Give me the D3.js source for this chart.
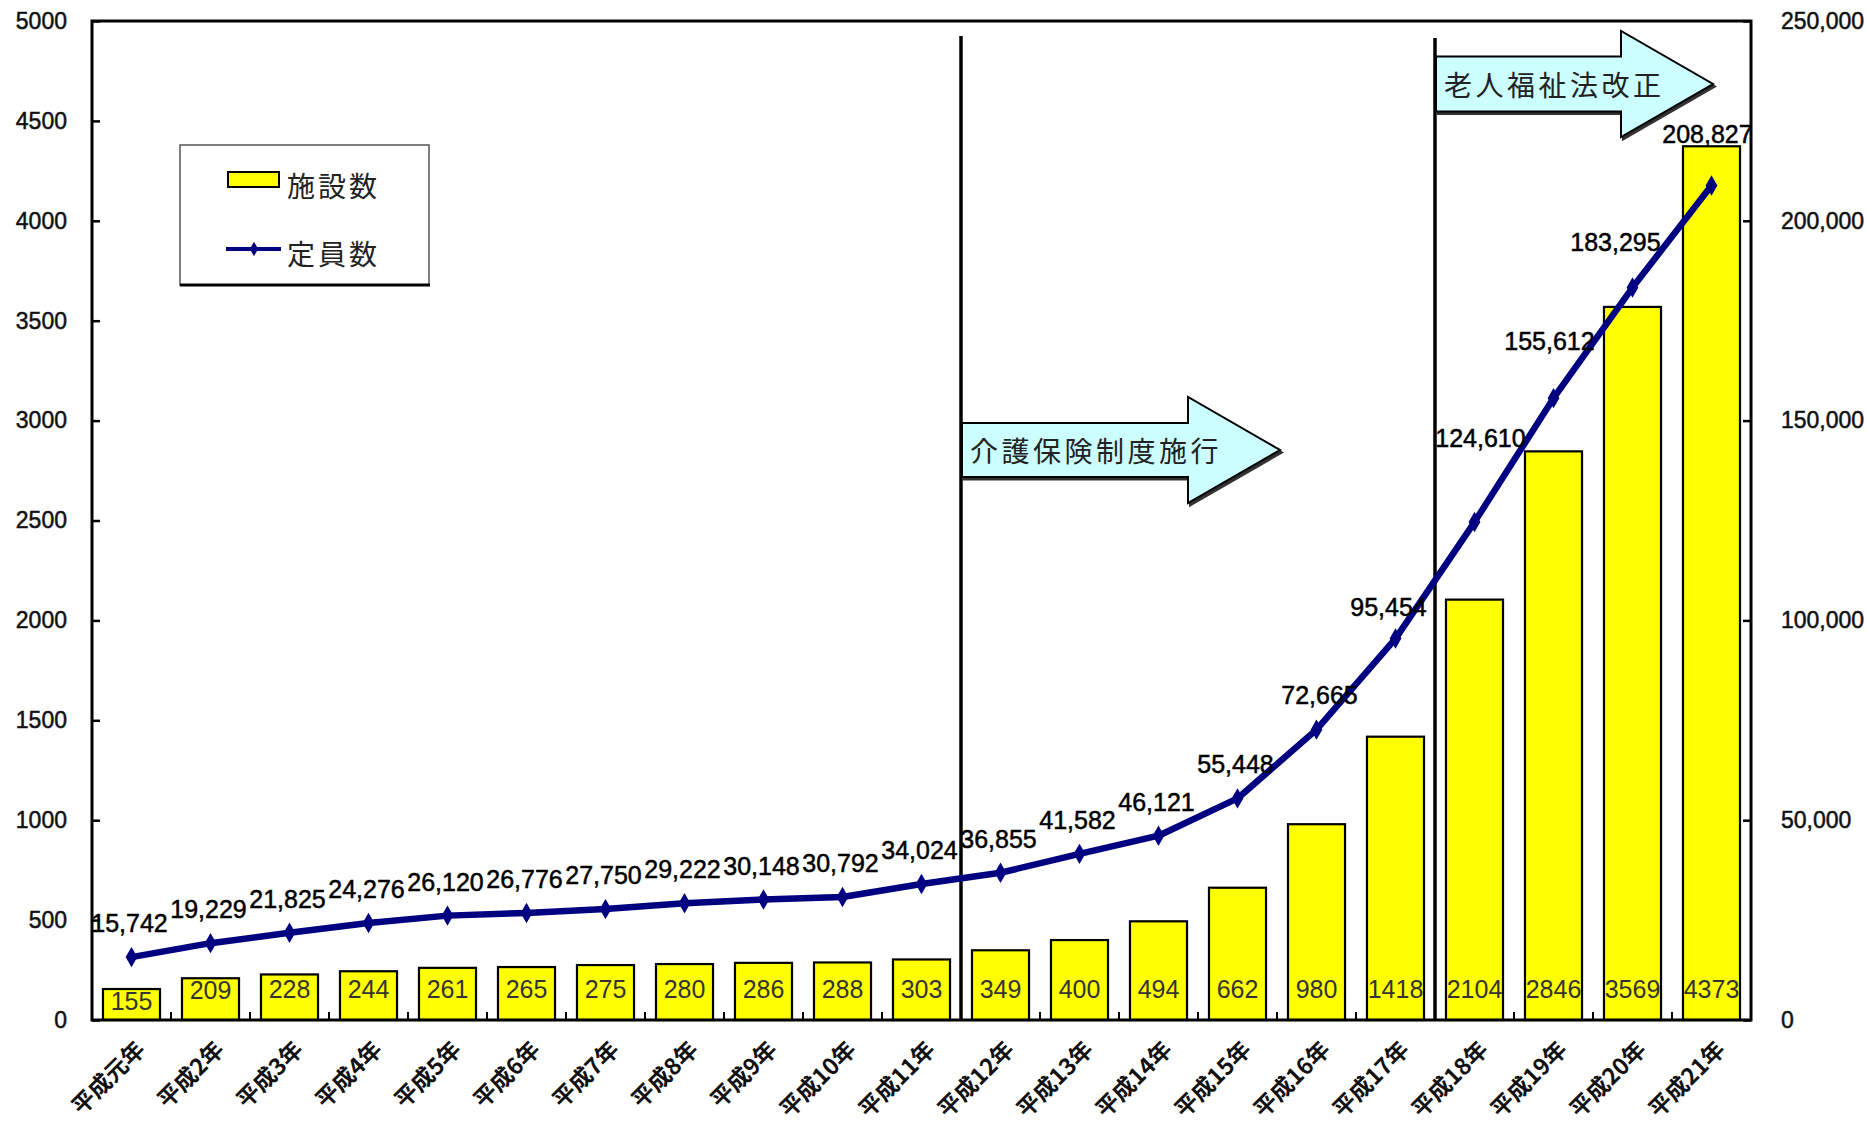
<!DOCTYPE html>
<html lang="ja">
<head>
<meta charset="utf-8">
<title>有料老人ホーム 施設数・定員数の推移</title>
<script src="https://cdn.jsdelivr.net/npm/d3@7/dist/d3.min.js"></script>
<style>
  html, body { margin: 0; padding: 0; background: #ffffff; }
  svg { display: block; }
  .num { font-family: "Liberation Sans", Arial, sans-serif; }
  .jp  { font-family: "Noto Sans CJK JP", "Noto Sans", sans-serif; }
</style>
</head>
<body>
<svg id="chart" width="1868" height="1131"></svg>
<script>
// Fiscal years (平成元年 .. 平成21年)
const years = ["平成元年","平成2年","平成3年","平成4年","平成5年","平成6年","平成7年",
  "平成8年","平成9年","平成10年","平成11年","平成12年","平成13年","平成14年","平成15年",
  "平成16年","平成17年","平成18年","平成19年","平成20年","平成21年"];

// Number of facilities (bars, left axis)
const facilities = [155,209,228,244,261,265,275,280,286,288,303,349,400,494,662,980,1418,2104,2846,3569,4373];

// Capacity (line, right axis)
const capacity = [15742,19229,21825,24276,26120,26776,27750,29222,30148,30792,34024,36855,
  41582,46121,55448,72665,95454,124610,155612,183295,208827];

// Axis ticks
const leftTicks = [0,500,1000,1500,2000,2500,3000,3500,4000,4500,5000];
const rightTicks = [0,50000,100000,150000,200000,250000];

// Legend and annotation texts
const seriesNames = ["施設数","定員数"];
const events = [
  { from: "平成12年", text: "介護保険制度施行" },
  { from: "平成18年", text: "老人福祉法改正" }
];

// ---- layout ----
const plot = { left: 92, right: 1751, top: 21, bottom: 1020 };
const svg = d3.select("#chart");

const x = d3.scaleBand().domain(years).range([plot.left, plot.right])
  .paddingInner(0.278).paddingOuter(0.139);
const yL = d3.scaleLinear().domain([0, 5000]).range([plot.bottom, plot.top]);
const yR = d3.scaleLinear().domain([0, 250000]).range([plot.bottom, plot.top]);
const gap = (x.step() - x.bandwidth()) / 2;
const cx = d => x(d) + x.bandwidth() / 2;

// ---- bars ----
svg.append("g").selectAll("rect").data(facilities).join("rect")
  .attr("x", (d, i) => x(years[i]))
  .attr("y", d => yL(d))
  .attr("width", x.bandwidth())
  .attr("height", d => yL(0) - yL(d))
  .attr("fill", "#ffff00")
  .attr("stroke", "#000").attr("stroke-width", 2.2);

// value inside each bar, near its base
svg.append("g").attr("class", "num").selectAll("text").data(facilities).join("text")
  .attr("x", (d, i) => cx(years[i]))
  .attr("y", d => Math.max(yL(0) - 22, yL(d) + 21))
  .attr("text-anchor", "middle")
  .attr("font-size", 25)
  .attr("fill", "#333")
  .text(d => d);

// ---- axes ----
const axisL = d3.axisLeft(yL).tickValues(leftTicks).tickSize(-8).tickPadding(25)
  .tickFormat(d3.format("d"));
const axisR = d3.axisRight(yR).tickValues(rightTicks).tickSize(-8).tickPadding(30)
  .tickFormat(d3.format(","));

const gL = svg.append("g").attr("transform", `translate(${plot.left},0)`).call(axisL);
const gR = svg.append("g").attr("transform", `translate(${plot.right},0)`).call(axisR);
[gL, gR].forEach(g => {
  g.select(".domain").remove();
  g.selectAll(".tick line").attr("stroke", "#000").attr("stroke-width", 2.5);
  g.selectAll(".tick text")
    .attr("font-family", "'Liberation Sans', Arial, sans-serif")
    .attr("font-size", 23).attr("fill", "#111")
    .attr("stroke", "#111").attr("stroke-width", 0.5);
});

// small inside ticks on the category axis at band boundaries
svg.append("g").selectAll("line").data(years.slice(1)).join("line")
  .attr("x1", d => x(d) - gap).attr("x2", d => x(d) - gap)
  .attr("y1", plot.bottom).attr("y2", plot.bottom - 8)
  .attr("stroke", "#000").attr("stroke-width", 2);

// plot frame
svg.append("rect")
  .attr("x", plot.left).attr("y", plot.top)
  .attr("width", plot.right - plot.left).attr("height", plot.bottom - plot.top)
  .attr("fill", "none").attr("stroke", "#000").attr("stroke-width", 3);

// category labels, rotated
svg.append("g").attr("class", "jp").selectAll("text").data(years).join("text")
  .attr("transform", d => `translate(${cx(d) + 8},${plot.bottom + 24}) rotate(-45)`)
  .attr("text-anchor", "end")
  .attr("dominant-baseline", "central")
  .attr("font-size", 23).attr("font-weight", 700)
  .attr("fill", "#111")
  .text(d => d);

// ---- event markers: vertical rule + arrow callout ----
const arrowGeom = [
  { top: 36, yc: 450, body: 27, head: 53, bodyLen: 226, headLen: 92 },
  { top: 38, yc: 84, body: 27.5, head: 53, bodyLen: 185, headLen: 92 }
];
function arrowPath(x0, g) {
  const xb = x0 + g.bodyLen, xt = xb + g.headLen;
  return `M${x0},${g.yc - g.body} L${xb},${g.yc - g.body} L${xb},${g.yc - g.head}
          L${xt},${g.yc} L${xb},${g.yc + g.head} L${xb},${g.yc + g.body}
          L${x0},${g.yc + g.body} Z`;
}
events.forEach((ev, k) => {
  const g = arrowGeom[k];
  const xv = x(ev.from) - gap;
  svg.append("line")
    .attr("x1", xv).attr("x2", xv).attr("y1", g.top).attr("y2", plot.bottom)
    .attr("stroke", "#000").attr("stroke-width", 3.5);
  svg.append("path").attr("d", arrowPath(xv + 1, g))
    .attr("transform", "translate(2,2.5)")
    .attr("fill", "#333").attr("stroke", "#333").attr("stroke-width", 2);
  svg.append("path").attr("d", arrowPath(xv + 1, g))
    .attr("fill", "#ccffff").attr("stroke", "#000").attr("stroke-width", 2);
  svg.append("text").attr("class", "jp")
    .attr("x", xv + 9).attr("y", g.yc)
    .attr("dominant-baseline", "central")
    .attr("font-size", 28).attr("letter-spacing", 3.5)
    .attr("fill", "#222")
    .text(ev.text);
});

// ---- capacity line ----
const line = d3.line().x((d, i) => cx(years[i])).y(d => yR(d));
svg.append("path").datum(capacity)
  .attr("d", line)
  .attr("fill", "none").attr("stroke", "#000080").attr("stroke-width", 6.5)
  .attr("stroke-linejoin", "round");
svg.append("g").selectAll("path").data(capacity).join("path")
  .attr("transform", (d, i) => `translate(${cx(years[i])},${yR(d)})`)
  .attr("d", d3.symbol(d3.symbolDiamond, 120))
  .attr("fill", "#000080");

// value labels above the line (a few nudged to clear the bars)
const nudge = { 15: [5, 26], 16: [-5, 23], 17: [8, 75], 18: [-2, 48], 19: [-15, 37], 20: [-2, 43] };
svg.append("g").attr("class", "num").selectAll("text").data(capacity).join("text")
  .attr("x", (d, i) => cx(years[i]) - 2 + (nudge[i] ? nudge[i][0] : 0))
  .attr("y", (d, i) => yR(d) - (nudge[i] ? nudge[i][1] : 25))
  .attr("text-anchor", "middle")
  .attr("font-size", 25).attr("fill", "#000")
  .attr("stroke", "#000").attr("stroke-width", 0.5)
  .text(d => d3.format(",")(d));

// ---- legend ----
const lg = svg.append("g");
lg.append("rect").attr("x", 180).attr("y", 145).attr("width", 249).attr("height", 140)
  .attr("fill", "#fff").attr("stroke", "#555").attr("stroke-width", 1.5);
lg.append("line").attr("x1", 180).attr("x2", 430).attr("y1", 285).attr("y2", 285)
  .attr("stroke", "#000").attr("stroke-width", 3);
lg.append("rect").attr("x", 228).attr("y", 172).attr("width", 51).attr("height", 15)
  .attr("fill", "#ffff00").attr("stroke", "#000").attr("stroke-width", 2);
lg.append("line").attr("x1", 226).attr("x2", 281).attr("y1", 249).attr("y2", 249)
  .attr("stroke", "#000080").attr("stroke-width", 4);
lg.append("path").attr("transform", "translate(254,249)")
  .attr("d", d3.symbol(d3.symbolDiamond, 60)).attr("fill", "#000080");
lg.selectAll("text.lbl").data(seriesNames).join("text")
  .attr("class", "jp lbl")
  .attr("x", 287).attr("y", (d, i) => i === 0 ? 185 : 253)
  .attr("dominant-baseline", "central")
  .attr("font-size", 28).attr("letter-spacing", 3)
  .attr("fill", "#222")
  .text(d => d);
</script>
</body>
</html>
